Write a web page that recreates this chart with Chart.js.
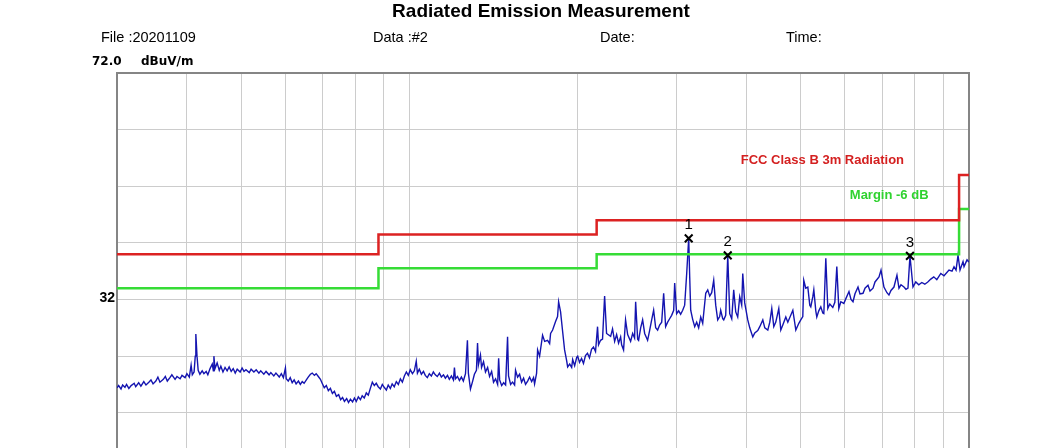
<!DOCTYPE html>
<html>
  <head>
    <script src="https://cdn.jsdelivr.net/npm/chart.js"></script>
    <title>Radiated Emission Measurement</title>
    <style>
      body {
        margin: 0;
        background-color: white;
        overflow: hidden;
        font-family: "Liberation Sans", Arial, sans-serif;
      }
      .wrap {
        position: relative;
        width: 1054px;
        height: 448px;
        overflow: hidden;
      }
      canvas {
        position: absolute;
        left: 0;
        top: 0;
      }
      .txt {
        position: absolute;
        line-height: 1;
        white-space: nowrap;
        color: black;
      }
      .title {
        top: 1px;
        left: 0;
        width: 1082px;
        text-align: center;
        font-size: 19px;
        font-weight: bold;
      }
      .info {
        top: 30px;
        font-size: 14.5px;
      }
      .unit {
        font-family: "DejaVu Sans", sans-serif;
        font-weight: bold;
        font-size: 12px;
        top: 55px;
      }
      .ytick {
        font-weight: bold;
        font-size: 14px;
        right: 939px;
        top: 290px;
      }
    </style>
  </head>
  <body>
    <div class="wrap">
      <canvas id="emi" width="1054" height="560"></canvas>
      <div class="txt title">Radiated Emission Measurement</div>
      <div class="txt info" style="left:101px">File :20201109</div>
      <div class="txt info" style="left:373px">Data :#2</div>
      <div class="txt info" style="left:600px">Date:</div>
      <div class="txt info" style="left:786px">Time:</div>
      <div class="txt unit" style="left:92px">72.0</div>
      <div class="txt unit" style="left:141px">dBuV/m</div>
      <div class="txt ytick">32</div>
    </div>

    <script>
      // measured trace, frequency in MHz and level in dBuV/m
      const traceFreq = [
        30.0, 30.2, 30.5, 30.7, 31.0, 31.2, 31.5, 31.8, 32.2, 32.4,
        32.8, 33.1, 33.5, 33.8, 34.2, 34.5, 34.8, 35.2, 35.5, 35.8,
        36.3, 36.6, 36.9, 37.3, 37.6, 38.1, 38.4, 38.9, 39.2, 39.7,
        40.0, 40.4, 40.7, 40.9, 41.2, 41.4, 41.5, 41.7, 41.9, 42.2,
        42.6, 42.9, 43.3, 43.6, 44.0, 44.4, 44.6, 44.7, 44.9, 45.3,
        45.7, 46.0, 46.4, 46.8, 47.2, 47.6, 48.0, 48.4, 48.8, 49.2,
        49.8, 50.2, 50.6, 51.0, 51.7, 52.1, 52.7, 53.2, 53.8, 54.2,
        54.9, 55.4, 56.1, 56.5, 57.2, 57.7, 58.5, 59.0, 59.5, 60.0,
        60.2, 60.7, 61.2, 61.7, 62.2, 62.7, 63.3, 63.8, 64.3, 64.8,
        65.4, 65.9, 66.5, 67.0, 67.6, 68.1, 68.7, 69.3, 69.8, 70.4,
        71.0, 71.6, 72.2, 72.8, 73.4, 74.0, 74.7, 75.3, 75.9, 76.5,
        77.2, 77.8, 78.4, 79.1, 79.7, 80.3, 81.0, 81.7, 82.3, 83.0,
        83.7, 84.4, 85.1, 85.8, 86.5, 87.2, 87.9, 88.7, 89.4, 90.1,
        90.9, 91.6, 92.4, 93.1, 93.9, 94.7, 95.5, 96.3, 97.1, 97.9,
        98.7, 99.5, 100.3, 101.2, 102.0, 102.8, 103.3, 104.1, 105.0, 105.9,
        106.7, 107.6, 108.5, 109.4, 110.3, 111.2, 112.1, 113.1, 114.0, 115.0,
        115.9, 116.9, 117.8, 118.8, 119.8, 120.3, 120.8, 121.8, 122.8, 123.8,
        124.8, 125.9, 126.9, 127.4, 128.5, 129.6, 130.6, 131.7, 132.3, 132.8,
        133.9, 134.5, 135.6, 136.7, 137.9, 139.0, 140.2, 141.3, 142.5, 143.7,
        144.3, 144.9, 146.1, 147.3, 148.5, 149.7, 150.3, 151.6, 152.8, 154.1,
        154.7, 156.0, 157.3, 158.6, 159.9, 161.2, 162.6, 163.9, 165.3, 166.6,
        167.3, 168.7, 169.4, 170.8, 172.9, 174.4, 176.5, 178.0, 178.7, 180.2,
        182.4, 183.9, 184.7, 186.2, 187.8, 189.3, 190.9, 191.7, 193.3, 194.9,
        195.7, 197.3, 199.0, 199.8, 201.3, 203.0, 204.6, 206.3, 208.0, 209.7,
        211.5, 213.2, 215.0, 216.8, 217.7, 219.5, 221.3, 223.2, 225.0, 228.8,
        230.6, 232.6, 234.5, 236.4, 238.4, 239.4, 241.3, 243.3, 245.4, 248.4,
        250.5, 252.5, 253.6, 255.7, 256.7, 258.9, 261.0, 263.2, 266.4, 268.6,
        270.9, 273.1, 275.4, 277.6, 279.9, 282.3, 284.6, 286.9, 289.3, 291.7,
        294.1, 296.6, 297.8, 300.2, 302.7, 305.2, 307.8, 310.3, 312.9, 315.5,
        316.8, 318.1, 320.7, 323.4, 326.0, 328.7, 331.5, 334.2, 338.4, 341.2,
        344.0, 346.8, 349.7, 352.6, 355.5, 358.4, 359.9, 362.9, 364.4, 367.4,
        370.5, 373.5, 376.6, 379.7, 382.9, 386.0, 389.2, 392.4, 394.1, 397.3,
        402.3, 405.6, 410.7, 414.1, 419.2, 422.7, 428.0, 431.5, 436.9, 440.5,
        444.1, 447.8, 451.5, 457.1, 460.9, 464.7, 470.5, 474.4, 484.3, 490.3,
        496.4, 500.4, 504.6, 506.6, 510.8, 515.1, 519.3, 521.5, 525.8, 528.0,
        532.3, 534.5, 538.9, 543.4, 547.9, 550.2, 554.7, 559.3, 563.9, 570.9,
        575.7, 580.4, 585.2, 590.1, 597.4, 602.7, 610.2, 615.3, 620.4, 625.5,
        633.3, 638.5, 646.5, 651.8, 659.9, 665.4, 673.7, 679.2, 690.5, 696.2,
        704.6, 713.4, 719.3, 725.3, 734.3, 743.4, 749.6, 755.8, 765.2, 771.5,
        777.9, 784.3, 794.1, 803.3, 813.3, 823.4, 833.7, 844.0, 854.5, 865.1,
        875.9, 890.5, 902.2, 921.0, 932.5, 940.2, 948.0, 955.8, 963.7, 975.7,
        979.7, 991.9, 1000
      ];
      const traceLevel = [
        16.4, 16.8, 16.2, 16.9, 16.5, 17.0, 16.3, 16.8, 17.2, 16.6,
        17.3, 16.7, 17.5, 16.9, 17.4, 17.8, 17.1, 17.6, 18.3, 17.4,
        17.9, 18.4, 17.6, 18.2, 18.7, 17.9, 18.4, 18.0, 18.6, 18.2,
        18.9, 18.3, 20.4, 18.7, 19.2, 22.0, 25.9, 22.0, 19.5, 18.8,
        19.4, 18.9, 19.3, 18.7, 19.8, 20.6, 19.4, 22.0, 19.8, 20.8,
        19.5, 20.2, 19.2, 20.0, 19.4, 20.1, 19.3, 19.8, 19.0, 19.7,
        19.2, 19.9, 19.3, 19.6, 19.1, 19.7, 19.2, 19.6, 19.0, 19.4,
        18.8, 19.3, 18.7, 19.1, 18.5, 19.0, 18.3, 18.9, 18.2, 19.9,
        18.0, 17.6, 18.2, 17.3, 17.8, 17.1, 17.6, 17.0, 17.5, 17.2,
        17.8, 18.3, 18.8, 19.0, 18.6, 18.9, 18.4, 17.9, 17.2, 16.4,
        16.8, 15.9, 16.3, 15.4, 15.8, 14.9, 15.2, 14.3, 14.7, 14.0,
        14.5, 13.8, 14.4, 13.9, 14.6, 14.0, 14.8, 14.3, 15.0, 14.6,
        15.5, 15.1, 16.3, 17.4, 16.8, 17.2, 16.6, 16.2, 17.0, 16.5,
        16.0, 16.9, 16.3, 17.1, 16.6, 17.5, 17.0, 18.0, 17.4, 18.5,
        19.2, 18.6, 19.6, 18.9, 19.4, 21.1, 19.0, 19.7, 18.8, 19.3,
        18.6, 18.2, 18.9, 18.5, 19.2, 18.7, 18.4, 19.0, 18.3, 18.7,
        18.1, 18.6, 17.9, 18.5, 17.8, 20.0, 18.0, 18.4, 17.7, 18.3,
        17.6, 18.9, 24.8, 19.0, 16.2, 17.5, 18.8, 19.5, 24.3, 20.5,
        22.2, 20.0, 21.0, 19.2, 20.0, 18.4, 19.3, 17.4, 18.0, 17.0,
        21.6, 17.8, 16.8, 17.3, 16.9, 25.4, 18.5, 17.0, 17.4, 16.9,
        19.5, 18.3, 18.8, 17.4, 18.1, 17.0, 17.6, 18.3, 17.5, 18.2,
        17.1, 19.0, 23.1, 22.0, 25.7, 24.6, 24.8, 24.2, 26.0, 26.6,
        28.1, 29.0, 31.6, 29.8, 26.3, 23.1, 21.2, 20.1, 20.6, 20.0,
        21.4, 20.3, 21.8, 22.0, 20.9, 21.6, 20.7, 22.1, 22.5, 21.7,
        23.2, 23.6, 22.8, 27.2, 24.0, 24.8, 25.0, 32.6, 26.0, 25.5,
        26.8, 24.6, 25.8, 24.3, 25.4, 24.0, 23.1, 28.4, 25.8, 24.6,
        26.0, 25.2, 31.6, 25.0, 24.8, 27.0, 28.4, 26.0, 24.8, 26.5,
        28.4, 30.1, 27.0, 26.6, 27.5, 28.0, 33.1, 27.2, 28.0, 28.6,
        29.2, 30.1, 34.9, 29.5, 30.0, 29.4, 30.1, 31.0, 36.6, 42.8,
        36.0, 30.1, 28.5, 27.2, 28.0, 27.0, 28.9, 27.8, 33.1, 33.7,
        32.6, 33.2, 35.4, 31.0, 28.4, 29.0, 30.1, 28.6, 28.4, 29.2,
        39.8, 29.5, 28.6, 33.7, 29.8, 28.9, 32.5, 31.0, 36.6, 31.4,
        28.4, 27.0, 25.4, 26.1, 26.5, 27.2, 28.4, 27.0, 26.6, 28.0,
        30.4, 27.2, 28.0, 30.4, 26.6, 27.5, 28.9, 28.0, 30.1, 26.6,
        27.8, 28.4, 29.0, 35.4, 34.0, 34.2, 31.0, 30.7, 32.5, 33.7,
        30.0, 28.9, 30.0, 30.7, 29.6, 29.5, 39.3, 30.4, 31.2, 30.6,
        31.5, 37.8, 30.4, 31.6, 31.3, 32.2, 33.4, 32.0, 31.6, 33.0,
        34.2, 33.0, 33.1, 34.0, 34.5, 33.5, 34.0, 35.1, 36.0, 37.2,
        34.2, 33.2, 32.8, 33.6, 34.2, 36.3, 34.0, 34.6, 34.2, 33.8,
        34.0, 39.7, 34.2, 35.1, 34.6, 35.0, 34.7, 35.1, 35.6, 36.0,
        35.5, 36.6, 36.2, 37.2, 37.0, 37.8, 37.2, 39.8, 37.2, 38.7,
        37.8, 39.0, 38.6
      ];

      // FCC Class B 3m limit and the -6 dB margin, drawn as steps
      const limitFreq = [30, 88, 88, 216, 216, 960, 960, 1000];
      const limitLevel = [40, 40, 43.5, 43.5, 46, 46, 54, 54];
      const marginLevel = [34, 34, 37.5, 37.5, 40, 40, 48, 48];

      // peak markers
      const markerNames = ['1', '2', '3'];
      const markerFreq = [315.5, 370.5, 784.3];
      const markerLevel = [42.8, 39.8, 39.7];

      // grid lines
      const freqGrid = [30, 40, 50, 60, 70, 80, 90, 100, 200, 300, 400, 500, 600, 700, 800, 900, 1000];
      const levelGrid = [-8, 2, 12, 22, 32, 42, 52, 62, 72];

      // line captions
      const noteText = ['FCC Class B 3m Radiation', 'Margin -6 dB'];
      const noteFreq = [390.9, 612.3];
      const noteLevel = [56.55, 50.45];
      const noteColor = ['#d42020', '#2fd22f'];

      const pairs = (xs, ys) => xs.map((v, i) => ({ x: v, y: ys[i] }));

      const frame = {
        id: 'frame',
        beforeDatasetsDraw(chart) {
          const { ctx, chartArea: a } = chart;
          ctx.save();
          ctx.strokeStyle = '#858585';
          ctx.lineWidth = 2;
          ctx.strokeRect(a.left, a.top, a.right - a.left, a.bottom - a.top);
          ctx.restore();
        },
        afterDatasetsDraw(chart) {
          const { ctx } = chart;
          const x = chart.scales.x;
          const y = chart.scales.y;
          ctx.save();
          ctx.textBaseline = 'middle';
          ctx.font = 'bold 13px "Liberation Sans", Arial, sans-serif';
          noteText.forEach((t, i) => {
            ctx.fillStyle = noteColor[i];
            ctx.fillText(t, x.getPixelForValue(noteFreq[i]), y.getPixelForValue(noteLevel[i]));
          });
          ctx.font = '15px "Liberation Sans", Arial, sans-serif';
          ctx.textAlign = 'center';
          ctx.fillStyle = 'black';
          markerNames.forEach((t, i) => {
            ctx.fillText(t, x.getPixelForValue(markerFreq[i]), y.getPixelForValue(markerLevel[i]) - 13);
          });
          ctx.restore();
        }
      };

      new Chart(document.getElementById('emi'), {
        type: 'scatter',
        data: {
          datasets: [
            {
              label: 'Markers',
              data: pairs(markerFreq, markerLevel),
              showLine: false,
              pointStyle: 'crossRot',
              pointRadius: 5.5,
              borderColor: 'black',
              borderWidth: 2
            },
            {
              label: 'FCC Class B 3m Radiation',
              data: pairs(limitFreq, limitLevel),
              showLine: true,
              borderColor: '#dc2222',
              borderWidth: 2.5,
              pointRadius: 0
            },
            {
              label: 'Margin -6 dB',
              data: pairs(limitFreq, marginLevel),
              showLine: true,
              borderColor: '#36dc36',
              borderWidth: 2.5,
              pointRadius: 0
            },
            {
              label: 'Trace',
              data: pairs(traceFreq, traceLevel),
              showLine: true,
              borderColor: '#1414b0',
              borderWidth: 1.4,
              pointRadius: 0
            }
          ]
        },
        options: {
          responsive: false,
          animation: false,
          devicePixelRatio: 1,
          layout: { padding: { left: 117, top: 73, right: 85, bottom: 34 } },
          plugins: {
            legend: { display: false },
            tooltip: { enabled: false }
          },
          scales: {
            x: {
              type: 'logarithmic',
              min: 30,
              max: 1000,
              afterBuildTicks: s => { s.ticks = freqGrid.map(v => ({ value: v })); },
              ticks: { display: false },
              grid: { color: '#cccccc', lineWidth: 1, drawTicks: false },
              border: { display: false }
            },
            y: {
              type: 'linear',
              min: -8,
              max: 72,
              afterBuildTicks: s => { s.ticks = levelGrid.map(v => ({ value: v })); },
              ticks: { display: false },
              grid: { color: '#cccccc', lineWidth: 1, drawTicks: false },
              border: { display: false }
            }
          }
        },
        plugins: [frame]
      });
    </script>
  </body>
</html>
